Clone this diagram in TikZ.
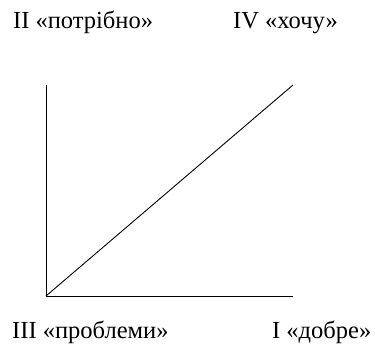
\documentclass[tikz,border=0pt]{standalone}
\usepackage{fontspec}
\setmainfont{Liberation Serif}
\begin{document}
\begin{tikzpicture}[x=1pt,y=1pt,
  lbl/.style={anchor=base west,inner sep=0pt,font=\fontsize{24.5}{28}\selectfont},
  axis/.style={line width=0.9pt,black}]
\useasboundingbox (0,0) rectangle (375,356);
\node[lbl] (t2) at (13,327) {II «потрібно»};
\node[lbl] (t4) at (233,327) {IV «хочу»};
\node[lbl] (t3) at (12,17) {III «проблеми»};
\node[lbl] (t1) at (272,17) {I «добре»};
\coordinate (o) at (46,60);
\coordinate (top) at (46,271);
\coordinate (right) at (293,60);
\coordinate (diag) at (293,271);
\draw[axis] (top) -- (o) -- (right);
\draw[axis] (o) -- (diag);
\end{tikzpicture}
\end{document}
